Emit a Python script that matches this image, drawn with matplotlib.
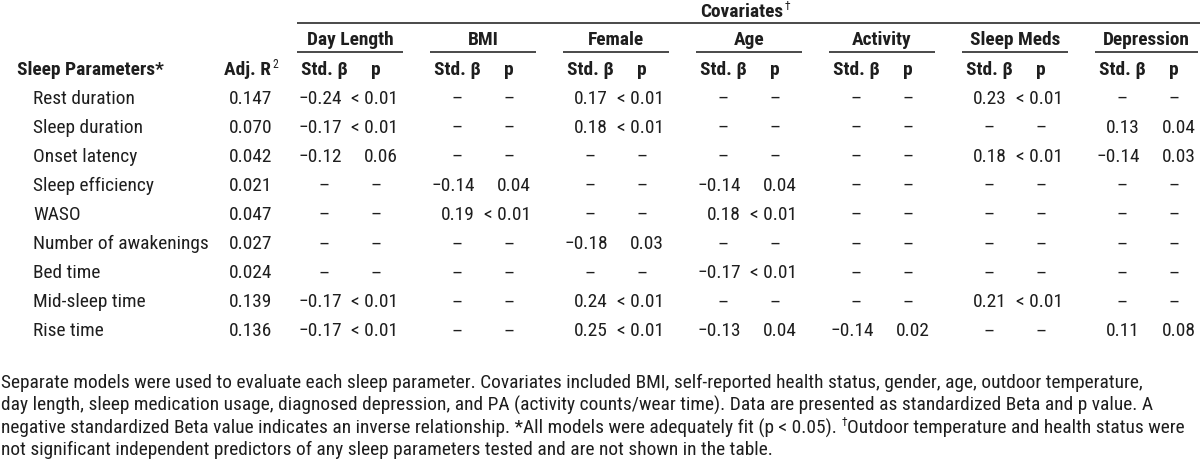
import matplotlib
matplotlib.use("Agg")
import matplotlib.pyplot as plt
from matplotlib import font_manager as fm

# ---------------- data ----------------
params = ["Rest duration", "Sleep duration", "Onset latency", "Sleep efficiency", "WASO",
          "Number of awakenings", "Bed time", "Mid-sleep time", "Rise time"]
adj_r2 = ["0.147", "0.070", "0.042", "0.021", "0.047", "0.027", "0.024", "0.139", "0.136"]
covariates = ["Day Length", "BMI", "Female", "Age", "Activity", "Sleep Meds", "Depression"]

daylen_beta = [-0.24, -0.17, -0.12, None, None, None, None, -0.17, -0.17]
daylen_p = ["< 0.01", "< 0.01", "0.06", None, None, None, None, "< 0.01", "< 0.01"]
bmi_beta = [None, None, None, -0.14, 0.19, None, None, None, None]
bmi_p = [None, None, None, "0.04", "< 0.01", None, None, None, None]
female_beta = [0.17, 0.18, None, None, None, -0.18, None, 0.24, 0.25]
female_p = ["< 0.01", "< 0.01", None, None, None, "0.03", None, "< 0.01", "< 0.01"]
age_beta = [None, None, None, -0.14, 0.18, None, -0.17, None, -0.13]
age_p = [None, None, None, "0.04", "< 0.01", None, "< 0.01", None, "0.04"]
activity_beta = [None, None, None, None, None, None, None, None, -0.14]
activity_p = [None, None, None, None, None, None, None, None, "0.02"]
meds_beta = [0.23, None, 0.18, None, None, None, None, 0.21, None]
meds_p = ["< 0.01", None, "< 0.01", None, None, None, None, "< 0.01", None]
dep_beta = [None, 0.13, -0.14, None, None, None, None, None, 0.11]
dep_p = [None, "0.04", "0.03", None, None, None, None, None, "0.08"]

betas = [daylen_beta, bmi_beta, female_beta, age_beta, activity_beta, meds_beta, dep_beta]
pvals = [daylen_p, bmi_p, female_p, age_p, activity_p, meds_p, dep_p]

footnote_lines = [
    "Separate models were used to evaluate each sleep parameter. Covariates included BMI, self-reported health status, gender, age, outdoor temperature,",
    "day length, sleep medication usage, diagnosed depression, and PA (activity counts/wear time). Data are presented as standardized Beta and p value. A",
    ("negative standardized Beta value indicates an inverse relationship. *All models were adequately fit (p < 0.05). ",
     "Outdoor temperature and health status were"),
    "not significant independent predictors of any sleep parameters tested and are not shown in the table.",
]

# ---------------- fonts ----------------
entries = fm.fontManager.ttflist
names = {f.name for f in entries}
condensed = None
for cand in ["Liberation Sans Narrow", "Arial Narrow", "Roboto Condensed",
             "Open Sans Condensed", "DejaVu Sans Condensed", "Noto Sans Condensed"]:
    if cand in names:
        condensed = cand
        break
STRETCH = "normal"
if condensed is None:
    for f in entries:
        if str(f.stretch) in ("condensed", "semi-condensed", "ultra-condensed",
                              "extra-condensed") and "Mono" not in f.name and "Serif" not in f.name:
            condensed = f.name
            STRETCH = "condensed"
            break
HAVE_NARROW = condensed is not None
FONT = [condensed, "DejaVu Sans"] if HAVE_NARROW else ["Liberation Sans", "DejaVu Sans"]
plt.rcParams["font.family"] = FONT
plt.rcParams["font.stretch"] = STRETCH

TXT = "#1e1e1e"
LINE = "#3a3a3a"

W, H = 1200, 459
fig = plt.figure(figsize=(W / 100, H / 100), dpi=100)
ax = fig.add_axes([0, 0, 1, 1])
ax.set_xlim(0, W)
ax.set_ylim(H, 0)
ax.axis("off")
renderer = fig.canvas.get_renderer()


def width_px(s, size, weight="normal"):
    t = ax.text(0, 0, s, fontsize=size, fontweight=weight)
    bb = t.get_window_extent(renderer=renderer)
    t.remove()
    return bb.width

# calibrate font size from the reference width of the longest row label
FS = 13.0 * 175.0 / width_px("Number of awakenings", 13.0)
if not HAVE_NARROW:
    FS *= 1.07
FS_FOOT = 13.0 * 1163.0 / width_px(footnote_lines[0], 13.0)
longest = max(width_px(l if isinstance(l, str) else "".join(l) + "\u2020", FS_FOOT)
              for l in footnote_lines)
if longest > 1190:
    FS_FOOT *= 1190.0 / longest


def put(x, y, s, ha="left", weight="normal", size=None):
    ax.text(x, y, s, ha=ha, va="center_baseline", fontsize=size or FS,
            fontweight=weight, color=TXT)


def fmt_beta(v):
    return ("%.2f" % v).replace("-", "\u2212")

# ---------------- header ----------------
Y_COV, Y_TOP, Y_GRP, Y_ULINE, Y_SUB = 10, 23, 38, 52, 68
ROW0, DROW = 97, 29.05
GX0, GPITCH, GW = 297, 133, 106
BETA_C, BETA_R, P_C, P_R = 27, 45, 79, 101

put(742, Y_COV, "Covariates", ha="center", weight="bold")
wcov = width_px("Covariates", FS, "bold")
put(742 + wcov / 2 + 1, Y_COV - 5, "\u2020", size=FS * 0.6)
ax.plot([GX0, W], [Y_TOP, Y_TOP], color=LINE, lw=1.3, solid_capstyle="butt")

put(17, Y_SUB, "Sleep Parameters*", weight="bold")
put(271, Y_SUB, "Adj. R", ha="right", weight="bold")
put(272, Y_SUB - 5, "2", size=FS * 0.6)

for g, name in enumerate(covariates):
    x0 = GX0 + g * GPITCH
    x1 = min(x0 + GW, W - 2)
    put((x0 + x1) / 2, Y_GRP, name, ha="center", weight="bold")
    ax.plot([x0, x1], [Y_ULINE, Y_ULINE], color=LINE, lw=1.3, solid_capstyle="butt")
    put(x0 + BETA_C, Y_SUB, "Std. \u03b2", ha="center", weight="bold")
    put(x0 + P_C, Y_SUB, "p", ha="center", weight="bold")

# ---------------- body ----------------
for i, name in enumerate(params):
    y = ROW0 + i * DROW
    put(33, y, name)
    put(272, y, adj_r2[i], ha="right")
    for g in range(len(covariates)):
        x0 = GX0 + g * GPITCH
        b = betas[g][i]
        p = pvals[g][i]
        if b is None:
            put(x0 + BETA_C, y, "\u2013", ha="center")
        else:
            put(x0 + BETA_R, y, fmt_beta(b), ha="right")
        if p is None:
            put(x0 + P_C, y, "\u2013", ha="center")
        else:
            put(x0 + P_R, y, p, ha="right")

# ---------------- footnote ----------------
FY0, FDY = 381, 22.4
for k, line in enumerate(footnote_lines):
    y = FY0 + k * FDY
    if isinstance(line, tuple):
        a, b = line
        put(1, y, a, size=FS_FOOT)
        wa = width_px(a, FS_FOOT)
        put(1 + wa, y - 5, "\u2020", size=FS_FOOT * 0.6)
        wd = width_px("\u2020", FS_FOOT * 0.6)
        put(1 + wa + wd, y, b, size=FS_FOOT)
    else:
        put(1, y, line, size=FS_FOOT)

fig.savefig("out.png", dpi=100, facecolor="white")
